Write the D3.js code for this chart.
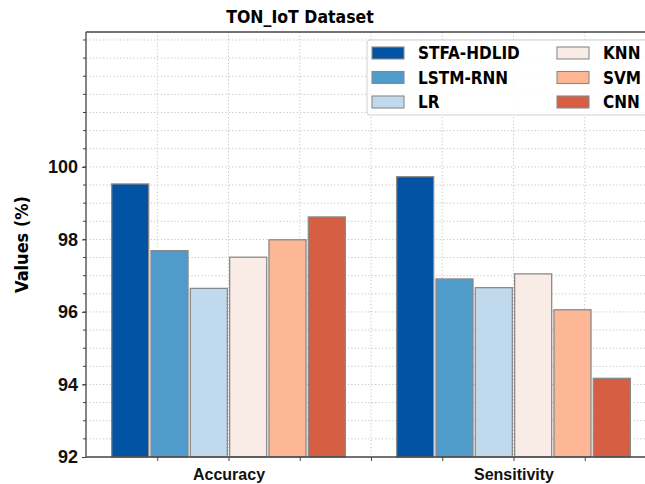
<!DOCTYPE html>
<html>
<head>
<meta charset="utf-8">
<script src="https://cdn.jsdelivr.net/npm/d3@7"></script>
<style>
  body { margin: 0; background: #fff; }
  svg { font-family: "DejaVu Sans Condensed", "DejaVu Sans", sans-serif; font-stretch: condensed; display: block; }
</style>
</head>
<body>
<div id="plotContainer"></div>
<script>
/* chart data */
const metrics = ["Accuracy", "Sensitivity"];
const models = ["STFA-HDLID", "LSTM-RNN", "LR", "KNN", "SVM", "CNN"];
const accuracyValues = [99.53, 97.69, 96.65, 97.51, 97.99, 98.62];
const sensitivityValues = [99.73, 96.91, 96.67, 97.05, 96.06, 94.17];
const yTickValues = [92, 94, 96, 98, 100];
const colors = ["#0353a4", "#4f9bca", "#c1d9ed", "#f9ece6", "#fdb794", "#d65e43"];

const seriesByMetric = [accuracyValues, sensitivityValues];

const width = 645, height = 484;
const margin = {top: 32, left: 86, bottom: 27};
const plotW = 570;   // real axes run past the right edge of the picture
const plotH = height - margin.top - margin.bottom;

const svg = d3.select("#plotContainer")
  .append("svg")
  .attr("width", width)
  .attr("height", height);

// x is a linear scale, categories sit at 0 and 1
const xScale = d3.scaleLinear().domain([-0.5, 1.5]).range([margin.left, margin.left + plotW]);
const yScale = d3.scaleLinear().domain([92, 103.72]).range([margin.top + plotH, margin.top]);

const barStep = 0.138, barWidth = 0.13;

// dotted grid, every minor tick
const xGrid = d3.range(-0.25, 1.5, 0.25);
const yGrid = d3.range(92.5, 103.6, 0.5);

const grid = svg.append("g").attr("class", "grid")
  .attr("stroke", "#c4c4c4")
  .attr("stroke-width", 1)
  .attr("stroke-dasharray", "1.2,2.2");

grid.selectAll("line.v").data(xGrid).enter().append("line")
  .attr("x1", d => xScale(d)).attr("x2", d => xScale(d))
  .attr("y1", margin.top).attr("y2", margin.top + plotH);

grid.selectAll("line.h").data(yGrid).enter().append("line")
  .attr("x1", margin.left).attr("x2", margin.left + plotW)
  .attr("y1", d => yScale(d)).attr("y2", d => yScale(d));

// bars
const groups = svg.selectAll("g.metric")
  .data(metrics).enter().append("g").attr("class", "metric");

groups.each(function(metric, mi) {
  const vals = seriesByMetric[mi];
  d3.select(this).selectAll("rect")
    .data(vals).enter().append("rect")
    .attr("x", (d, i) => xScale(mi + (i - 2.5) * barStep - barWidth / 2))
    .attr("width", xScale(barWidth) - xScale(0))
    .attr("y", d => yScale(d))
    .attr("height", d => yScale(92) - yScale(d))
    .attr("fill", (d, i) => colors[i])
    .attr("stroke", "#8a8a8a")
    .attr("stroke-width", 1.3);
});

// y axis: labelled majors, small minor ticks
const yAxis = d3.axisLeft(yScale).tickValues(yTickValues).tickSize(4).tickPadding(4).tickFormat(d3.format("d"));
const yAxisG = svg.append("g")
  .attr("transform", "translate(" + margin.left + ",0)")
  .call(yAxis);
yAxisG.select(".domain").remove();
yAxisG.selectAll("text").attr("font-size", 18).attr("font-weight", "bold").attr("fill", "#111");
yAxisG.selectAll("line").attr("stroke", "#444");

svg.append("g").selectAll("line")
  .data(yGrid).enter().append("line")
  .attr("x1", margin.left - 3).attr("x2", margin.left)
  .attr("y1", d => yScale(d)).attr("y2", d => yScale(d))
  .attr("stroke", "#444");

// x axis
const xAxis = d3.axisBottom(xScale).tickValues(xGrid).tickSize(4)
  .tickFormat(d => (d === 0 ? metrics[0] : d === 1 ? metrics[1] : ""));
const xAxisG = svg.append("g")
  .attr("transform", "translate(0," + (margin.top + plotH) + ")")
  .call(xAxis);
xAxisG.select(".domain").remove();
xAxisG.selectAll("text").attr("font-size", 16).attr("font-weight", "bold").attr("fill", "#111").attr("dy", "1em");
xAxisG.selectAll("line").attr("stroke", "#444");

// frame
const frame = svg.append("g").attr("stroke", "#444").attr("stroke-width", 1.3);
frame.append("line").attr("x1", margin.left).attr("x2", margin.left)
  .attr("y1", margin.top).attr("y2", margin.top + plotH);
frame.append("line").attr("x1", margin.left).attr("x2", margin.left + plotW)
  .attr("y1", margin.top).attr("y2", margin.top);
frame.append("line").attr("x1", margin.left).attr("x2", margin.left + plotW)
  .attr("y1", margin.top + plotH).attr("y2", margin.top + plotH);

// title and y label
svg.append("text")
  .attr("x", 300).attr("y", 23)
  .attr("text-anchor", "middle")
  .attr("font-size", 17.5).attr("font-weight", "bold")
  .text("TON_IoT Dataset");

svg.append("text")
  .attr("transform", "translate(28," + (margin.top + plotH / 2) + ") rotate(-90)")
  .attr("text-anchor", "middle")
  .attr("font-size", 18).attr("font-weight", "bold")
  .text("Values (%)");

// legend, two columns of three
const legend = svg.append("g").attr("transform", "translate(367,40)");
legend.append("rect")
  .attr("width", 300).attr("height", 75).attr("rx", 3)
  .attr("fill", "rgba(255,255,255,0.85)")
  .attr("stroke", "#d0d0d0");

const items = legend.selectAll("g.item")
  .data(models).enter().append("g")
  .attr("transform", (d, i) => "translate(" + (i < 3 ? 5 : 190) + "," + (7 + (i % 3) * 24.5) + ")");

items.append("rect")
  .attr("width", 32).attr("height", 12)
  .attr("fill", (d, i) => colors[i])
  .attr("stroke", "#8a8a8a").attr("stroke-width", 1.1);

items.append("text")
  .attr("x", 46).attr("y", 12)
  .attr("font-size", 17).attr("font-weight", "bold")
  .text(d => d);
</script>
</body>
</html>
